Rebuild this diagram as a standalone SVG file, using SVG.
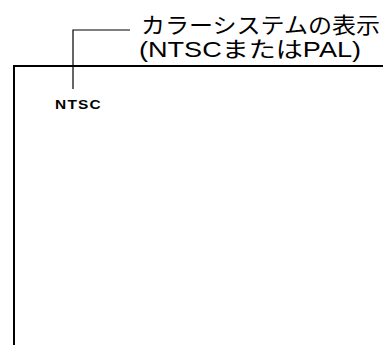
<svg xmlns="http://www.w3.org/2000/svg" width="383" height="345" viewBox="0 0 383 345">
<style>
.frame{fill:none;stroke:#000;stroke-width:2}
.lead{fill:none;stroke:#000;stroke-width:1.2}
.jp{font-family:"Liberation Sans","Noto Sans CJK JP",sans-serif;fill:#000}
.lbl{font-family:"Liberation Sans",Arial,sans-serif;font-weight:bold;fill:#000}
</style>
<rect width="383" height="345" fill="#fff"/>
<g id="screen">
<path class="frame" d="M14,345 V66 H383"/>
</g>
<g id="connectors">
<path class="lead" d="M130,30 H73 V89"/>
</g>
<g id="callout">
<text class="jp" x="141" y="33" font-size="21.5" textLength="239" lengthAdjust="spacingAndGlyphs">カラーシステムの表示</text>
<text class="jp" x="139" y="57" font-size="21.5" textLength="222" lengthAdjust="spacingAndGlyphs">(NTSCまたはPAL)</text>
</g>
<g id="ntsc">
<text class="lbl" x="55" y="109" font-size="12.5" textLength="47" lengthAdjust="spacingAndGlyphs" letter-spacing="1">NTSC</text>
</g>
</svg>
